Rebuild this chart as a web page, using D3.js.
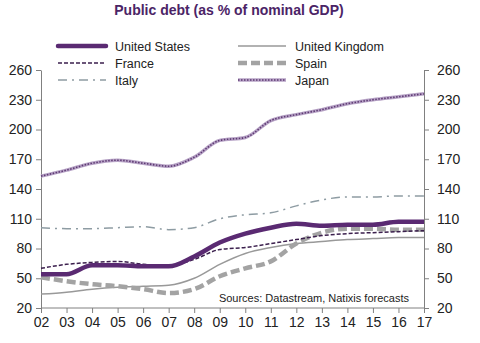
<!DOCTYPE html>
<html>
<head>
<meta charset="utf-8">
<script src="https://cdn.jsdelivr.net/npm/d3@7"></script>
<style>
    body { margin: 0; background: #fff; }
    svg { font-family: Arial, "Liberation Sans", sans-serif; }
    .axis path, .axis line { stroke: #808080; }
    .axis text { font-size: 14px; fill: #222; }
</style>
</head>
<body>
<div id="chart"></div>
<script>
"use strict"

// years 2002..2017, debt as % of nominal GDP
const years = ["02", "03", "04", "05", "06", "07", "08", "09", "10", "11", "12", "13", "14", "15", "16", "17"]
const usa    = [54, 54, 63, 63, 62, 62, 72, 86, 95, 101, 105, 103, 104, 104, 107, 107]
const france = [60, 64, 66, 67, 64, 63, 69, 79, 81, 85, 89, 93, 95, 96, 97, 98]
const italy  = [101, 100, 100, 101, 102, 99, 101, 110, 114, 116, 123, 129, 132, 132, 133, 133]
const uk     = [34, 36, 39, 41, 42, 43, 50, 64, 75, 81, 85, 87, 89, 90, 91, 91]
const spain  = [51, 47, 44, 42, 39, 35, 39, 52, 60, 67, 85, 96, 100, 100, 99, 99]
const japan  = [153, 159, 166, 169, 166, 163, 172, 189, 192, 209, 215, 220, 226, 230, 233, 236]
const yTicks = [20, 50, 80, 110, 140, 170, 200, 230, 260]

const chart = (function() {
    const w = 480, h = 343
    const frame = { l: 41, r: 424, t: 70, b: 308 }

    const svg = d3.select("#chart").append("svg")
        .attr("width", w).attr("height", h)

    const x = d3.scalePoint().domain(years).range([frame.l, frame.r])
    const y = d3.scaleLinear().domain([20, 260]).range([frame.b, frame.t])

    // series styling
    const series = [
        { name: "United Kingdom", data: uk, stroke: "#999999", width: 1.5, dash: null },
        { name: "Italy", data: italy, stroke: "#8e9ca3", width: 1.5, dash: "9,5,2,5" },
        { name: "Spain", data: spain, stroke: "#a3a3a3", width: 4.5, dash: "9,4" },
        { name: "France", data: france, stroke: "#3b1f4d", width: 1.5, dash: "4,2" },
        { name: "United States", data: usa, stroke: "#5a2a72", width: 4.5, dash: null },
        { name: "Japan", data: japan, stroke: "#b7a3c6", width: 3.5, dash: null, overlay: "#5e3a73" },
    ]

    const line = d3.line()
        .x((d, i) => x(years[i]))
        .y(d => y(d))
        .curve(d3.curveMonotoneX)

    // axes
    svg.append("g").attr("class", "axis")
        .attr("transform", `translate(${ frame.l }, 0)`)
        .call(d3.axisLeft(y).tickValues(yTicks).tickSize(5).tickSizeOuter(0).tickPadding(4))
    svg.append("g").attr("class", "axis")
        .attr("transform", `translate(${ frame.r }, 0)`)
        .call(d3.axisRight(y).tickValues(yTicks).tickSize(5).tickSizeOuter(0).tickPadding(8))
    svg.append("g").attr("class", "axis")
        .attr("transform", `translate(0, ${ frame.b })`)
        .call(d3.axisBottom(x).tickSize(5).tickSizeOuter(0).tickPadding(4))
        .call(g => g.select(".domain").attr("d", `M${ frame.l },0H${ frame.r }`))
        .selectAll("text").attr("font-size", 15)

    // lines
    series.forEach(s => {
        svg.append("path")
            .attr("d", line(s.data))
            .attr("fill", "none")
            .attr("stroke", s.stroke)
            .attr("stroke-width", s.width)
            .attr("stroke-dasharray", s.dash)
        if (s.overlay) {
            svg.append("path")
                .attr("d", line(s.data))
                .attr("fill", "none")
                .attr("stroke", s.overlay)
                .attr("stroke-width", 1.6)
                .attr("stroke-dasharray", "1.5,1.5")
        }
    })

    // legend
    const legend = [
        { s: series[4], x: 58, y: 46 },
        { s: series[3], x: 58, y: 63 },
        { s: series[1], x: 58, y: 80 },
        { s: series[0], x: 238, y: 46 },
        { s: series[2], x: 238, y: 63 },
        { s: series[5], x: 238, y: 80 },
    ]
    legend.forEach(d => {
        const g = svg.append("g").attr("transform", `translate(${ d.x }, ${ d.y })`)
        g.append("line").attr("x1", 0).attr("x2", 48)
            .attr("stroke", d.s.stroke).attr("stroke-width", d.s.width)
            .attr("stroke-dasharray", d.s.dash)
            .attr("stroke-linecap", d.s.name === "United States" ? "round" : null)
        if (d.s.overlay) {
            g.append("line").attr("x1", 0).attr("x2", 48)
                .attr("stroke", d.s.overlay).attr("stroke-width", 1.6)
                .attr("stroke-dasharray", "1.5,1.5")
        }
        g.append("text").attr("x", 57).attr("y", 4.5)
            .attr("font-size", 12.5).attr("fill", "#222")
            .text(d.s.name)
    })

    // title and source
    svg.append("text")
        .attr("x", 229).attr("y", 15)
        .attr("text-anchor", "middle")
        .attr("font-size", 14).attr("font-weight", "bold")
        .attr("fill", "#4b2466")
        .text("Public debt (as % of nominal GDP)")
    svg.append("text")
        .attr("x", 409).attr("y", 302)
        .attr("text-anchor", "end")
        .attr("font-size", 11).attr("fill", "#222")
        .text("Sources: Datastream, Natixis forecasts")
}())
</script>
</body>
</html>
